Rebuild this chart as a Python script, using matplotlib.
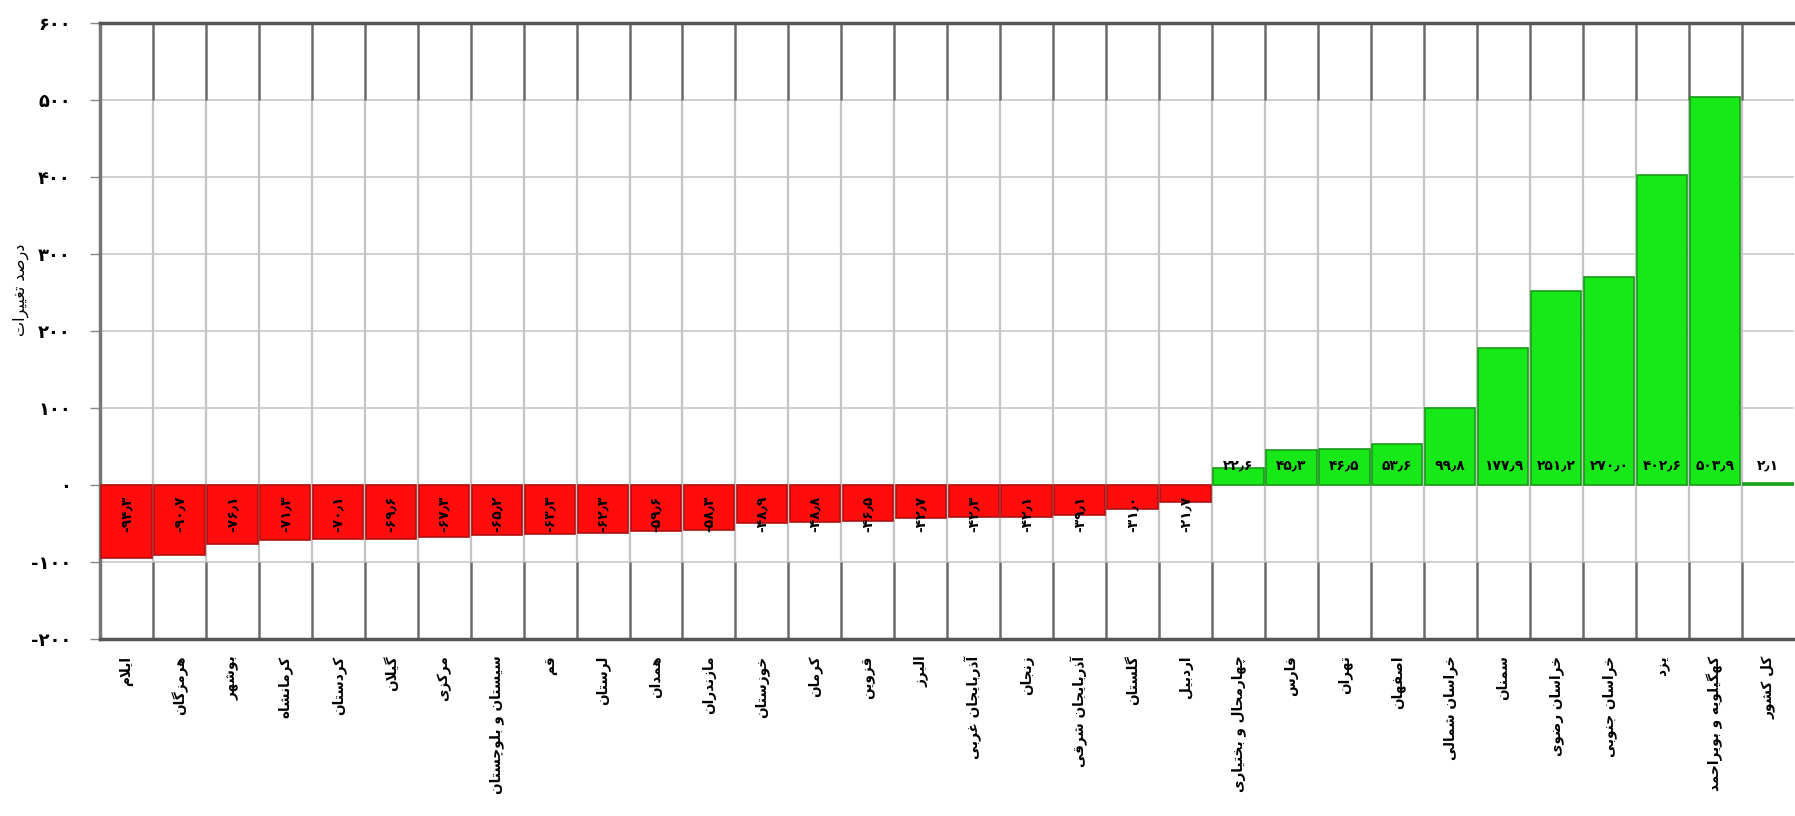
import matplotlib
matplotlib.use("Agg")
import matplotlib.pyplot as plt
import numpy as np

# ---------------- data ----------------
categories = ["ایلام", "هرمزگان", "بوشهر", "کرمانشاه", "کردستان", "گیلان", "مرکزی",
              "سیستان و بلوچستان", "قم", "لرستان", "همدان", "مازندران", "خوزستان",
              "کرمان", "قزوین", "البرز", "آذربایجان غربی", "زنجان", "آذربایجان شرقی",
              "گلستان", "اردبیل", "چهارمحال و بختیاری", "فارس", "تهران", "اصفهان",
              "خراسان شمالی", "سمنان", "خراسان رضوی", "خراسان جنوبی", "یزد",
              "کهگیلویه و بویراحمد", "کل کشور"]
values = [-94.3, -90.7, -76.1, -71.3, -70.1, -69.6, -67.3, -65.2, -63.3, -62.3,
          -59.6, -58.3, -48.9, -48.8, -46.5, -42.7, -42.3, -42.1, -39.1, -31.0,
          -21.7, 22.6, 45.3, 46.5, 53.6, 99.8, 177.9, 251.2, 270.0, 402.6, 503.9, 2.1]
yticks = [-200, -100, 0, 100, 200, 300, 400, 500, 600]
y_label = "درصد تغییرات"

# ---------------- Persian shaping (no bidi engine in matplotlib) ----------------
FORMS = {  # isolated, final, initial, medial
    '\u0627': ('\uFE8D', '\uFE8E', None, None),
    '\u0622': ('\uFE81', '\uFE82', None, None),
    '\u0628': ('\uFE8F', '\uFE90', '\uFE91', '\uFE92'),
    '\u067E': ('\uFB56', '\uFB57', '\uFB58', '\uFB59'),
    '\u062A': ('\uFE95', '\uFE96', '\uFE97', '\uFE98'),
    '\u062B': ('\uFE99', '\uFE9A', '\uFE9B', '\uFE9C'),
    '\u062C': ('\uFE9D', '\uFE9E', '\uFE9F', '\uFEA0'),
    '\u0686': ('\uFB7A', '\uFB7B', '\uFB7C', '\uFB7D'),
    '\u062D': ('\uFEA1', '\uFEA2', '\uFEA3', '\uFEA4'),
    '\u062E': ('\uFEA5', '\uFEA6', '\uFEA7', '\uFEA8'),
    '\u062F': ('\uFEA9', '\uFEAA', None, None),
    '\u0630': ('\uFEAB', '\uFEAC', None, None),
    '\u0631': ('\uFEAD', '\uFEAE', None, None),
    '\u0632': ('\uFEAF', '\uFEB0', None, None),
    '\u0698': ('\uFB8A', '\uFB8B', None, None),
    '\u0633': ('\uFEB1', '\uFEB2', '\uFEB3', '\uFEB4'),
    '\u0634': ('\uFEB5', '\uFEB6', '\uFEB7', '\uFEB8'),
    '\u0635': ('\uFEB9', '\uFEBA', '\uFEBB', '\uFEBC'),
    '\u0636': ('\uFEBD', '\uFEBE', '\uFEBF', '\uFEC0'),
    '\u0637': ('\uFEC1', '\uFEC2', '\uFEC3', '\uFEC4'),
    '\u0638': ('\uFEC5', '\uFEC6', '\uFEC7', '\uFEC8'),
    '\u0639': ('\uFEC9', '\uFECA', '\uFECB', '\uFECC'),
    '\u063A': ('\uFECD', '\uFECE', '\uFECF', '\uFED0'),
    '\u0641': ('\uFED1', '\uFED2', '\uFED3', '\uFED4'),
    '\u0642': ('\uFED5', '\uFED6', '\uFED7', '\uFED8'),
    '\u06A9': ('\uFB8E', '\uFB8F', '\uFB90', '\uFB91'),
    '\u06AF': ('\uFB92', '\uFB93', '\uFB94', '\uFB95'),
    '\u0644': ('\uFEDD', '\uFEDE', '\uFEDF', '\uFEE0'),
    '\u0645': ('\uFEE1', '\uFEE2', '\uFEE3', '\uFEE4'),
    '\u0646': ('\uFEE5', '\uFEE6', '\uFEE7', '\uFEE8'),
    '\u0648': ('\uFEED', '\uFEEE', None, None),
    '\u0647': ('\uFEE9', '\uFEEA', '\uFEEB', '\uFEEC'),
    '\u06CC': ('\uFBFC', '\uFBFD', '\uFBFE', '\uFBFF'),
}


def _dual(c):
    f = FORMS.get(c)
    return f is not None and f[2] is not None


def shape(s):
    res = []
    n = len(s)
    i = 0
    while i < n:
        c = s[i]
        f = FORMS.get(c)
        if f is None:
            res.append(c)
            i += 1
            continue
        prev = s[i - 1] if i > 0 else None
        join_prev = prev is not None and _dual(prev)
        if c == '\u0644' and i + 1 < n and s[i + 1] in ('\u0627', '\u0622'):
            if s[i + 1] == '\u0627':
                res.append('\uFEFC' if join_prev else '\uFEFB')
            else:
                res.append('\uFEF6' if join_prev else '\uFEF5')
            i += 2
            continue
        nxt = s[i + 1] if i + 1 < n else None
        join_next = _dual(c) and nxt is not None and nxt in FORMS
        if join_prev and join_next:
            res.append(f[3])
        elif join_prev:
            res.append(f[1])
        elif join_next:
            res.append(f[2])
        else:
            res.append(f[0])
        i += 1
    return ''.join(reversed(res))


DIG = str.maketrans("0123456789.", "۰۱۲۳۴۵۶۷۸۹٫")


def fa_num(v, fmt="{:.1f}"):
    return fmt.format(v).translate(DIG)


# ---------------- figure ----------------
FONT = ["DejaVu Sans"]
plt.rcParams["font.family"] = FONT

fig = plt.figure(figsize=(17.95, 8.16), dpi=100)
ax = fig.add_axes([0.0557, 0.217, 0.944, 0.755])

x = np.arange(len(categories))
vals = np.array(values)
colors = np.where(vals < 0, "#ff0d0d", "#17e817")
edges = np.where(vals < 0, "#b01010", "#1a9a1a")
ax.bar(x, vals, width=0.95, color=colors, edgecolor=edges, linewidth=1.2, zorder=3)

ax.set_xlim(-0.5, len(categories) - 0.5)
ax.set_ylim(yticks[0], yticks[-1])
ax.set_yticks(yticks)
ax.set_yticklabels([fa_num(t, "{:d}") for t in yticks], fontsize=13, fontweight="bold")
ax.tick_params(axis="y", length=7, width=1, color="#888888", pad=14)

ax.set_xticks(x)
ax.set_xticklabels([shape(c) for c in categories], rotation=90, fontsize=9.8,
                   fontweight="bold", va="top", ha="center")
ax.tick_params(axis="x", length=0, pad=12)

# horizontal grid
ax.set_axisbelow(True)
ax.grid(axis="y", color="#c8c8c8", linewidth=1.2)

# vertical separators between categories
bounds = x[:-1] + 0.5
ax.vlines(bounds, yticks[1], yticks[-2], color="#c4c4c4", linewidth=1.6, zorder=1)
ax.vlines(bounds, yticks[-2], yticks[-1], color="#6a6a6a", linewidth=1.8, zorder=1)
ax.vlines(bounds, yticks[0], yticks[1], color="#6a6a6a", linewidth=1.8, zorder=1)

for s in ["top", "bottom"]:
    ax.spines[s].set_color("#555555")
    ax.spines[s].set_linewidth(2.5)
ax.spines["left"].set_color("#777777")
ax.spines["left"].set_linewidth(2.5)
ax.spines["right"].set_visible(False)

ax.set_ylabel(shape(y_label), fontsize=11.5, rotation=90)
ax.yaxis.set_label_coords(-0.042, 0.567)

# value labels
for xi, v in zip(x, vals):
    if v < 0:
        ax.text(xi, -14, fa_num(v), rotation=90, ha="center", va="top",
                fontsize=10, fontweight="bold", zorder=4)
    else:
        ax.text(xi, 16, fa_num(v), ha="center", va="bottom",
                fontsize=10, fontweight="bold", zorder=4)

fig.savefig("out.png", dpi=100, facecolor="white")
